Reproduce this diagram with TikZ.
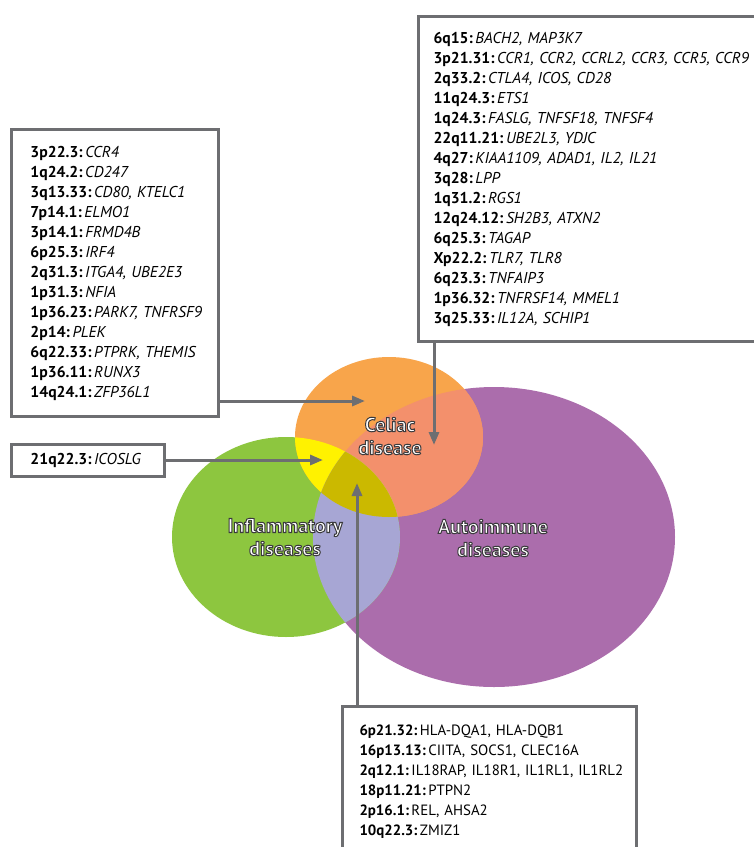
\documentclass[tikz,border=0pt]{standalone}
\usepackage{fontspec}
\setmainfont{PT Sans}
\usetikzlibrary{arrows.meta}
\definecolor{celiac}{HTML}{F8A54B}
\definecolor{inflam}{HTML}{8DC63F}
\definecolor{autoim}{HTML}{AB6DAC}
\definecolor{celauto}{HTML}{F3906C}
\definecolor{celinfl}{HTML}{FFF200}
\definecolor{inflauto}{HTML}{A7A6D4}
\definecolor{allthree}{HTML}{CBB900}
\definecolor{linegray}{HTML}{6D6E71}
\tikzset{
  genebox/.style={draw=linegray, line width=3pt, fill=white, anchor=north west,
    align=left, inner ysep=0pt, font=\fontsize{15.7}{20}\selectfont},
  conn/.style={draw=linegray, line width=3pt, -{Triangle[length=13pt,width=10pt]}},
  setlabel/.style={font=\bfseries\fontsize{20}{23}\selectfont, text=white, align=center}
}
\newcommand{\gl}[2]{\mbox{\textbf{#1:}\,\textit{#2}}}
\newcommand{\gu}[2]{\mbox{\textbf{#1:}\,#2}}
% white letters with a dark rim
\newcommand{\rim}[1]{\special{pdf:literal direct 0.23 0.23 0.24 RG 1 w 2 Tr}#1\special{pdf:literal direct 0 Tr}}
\def\celiacpath{(389,437) ellipse [x radius=94pt, y radius=80pt]}
\def\inflampath{(286,537) ellipse [x radius=114pt, y radius=100pt]}
\def\autopath{(494,537) ellipse [x radius=181pt, y radius=150pt]}
\begin{document}
\begin{tikzpicture}[x=1pt, y=-1pt]
	\useasboundingbox (0,0) rectangle (754,847);
	\fill[white] (0,0) rectangle (754,847);
	\clip (0,0) rectangle (754,847);

	% the three sets
	\fill[autoim] \autopath;
	\fill[inflam] \inflampath;
	\fill[celiac] \celiacpath;

	% overlaps
	\begin{scope}
		\clip \celiacpath;
		\fill[celauto] \autopath;
		\fill[celinfl] \inflampath;
	\end{scope}
	\begin{scope}
		\clip \inflampath;
		\fill[inflauto] \autopath;
		\clip \celiacpath;
		\fill[allthree] \autopath;
	\end{scope}

	% set names
	\node[setlabel] (celiaclbl) at (390,436) {\rim{Celiac}\\\rim{disease}};
	\node[setlabel] (inflamlbl) at (285,537) {\rim{Inflammatory}\\\rim{diseases}};
	\node[setlabel] (autolbl) at (493,538) {\rim{Autoimmune}\\\rim{diseases}};

	% gene boxes
	\node[genebox, inner xsep=15pt, minimum width=360pt, text width=330pt, minimum height=325pt] (autobox) at (417,15) {%
		\gl{6q15}{BACH2, MAP3K7}\\
		\gl{3p21.31}{CCR1, CCR2, CCRL2, CCR3, CCR5, CCR9}\\
		\gl{2q33.2}{CTLA4, ICOS, CD28}\\
		\gl{11q24.3}{ETS1}\\
		\gl{1q24.3}{FASLG, TNFSF18, TNFSF4}\\
		\gl{22q11.21}{UBE2L3, YDJC}\\
		\gl{4q27}{KIAA1109, ADAD1, IL2, IL21}\\
		\gl{3q28}{LPP}\\
		\gl{1q31.2}{RGS1}\\
		\gl{12q24.12}{SH2B3, ATXN2}\\
		\gl{6q25.3}{TAGAP}\\
		\gl{Xp22.2}{TLR7, TLR8}\\
		\gl{6q23.3}{TNFAIP3}\\
		\gl{1p36.32}{TNFRSF14, MMEL1}\\
		\gl{3q25.33}{IL12A, SCHIP1}};
	\node[genebox, inner xsep=19pt, minimum width=207pt, text width=169pt, minimum height=287pt] (celiacbox) at (10,128) {%
		\gl{3p22.3}{CCR4}\\
		\gl{1q24.2}{CD247}\\
		\gl{3q13.33}{CD80, KTELC1}\\
		\gl{7p14.1}{ELMO1}\\
		\gl{3p14.1}{FRMD4B}\\
		\gl{6p25.3}{IRF4}\\
		\gl{2q31.3}{ITGA4, UBE2E3}\\
		\gl{1p31.3}{NFIA}\\
		\gl{1p36.23}{PARK7, TNFRSF9}\\
		\gl{2p14}{PLEK}\\
		\gl{6q22.33}{PTPRK, THEMIS}\\
		\gl{1p36.11}{RUNX3}\\
		\gl{14q24.1}{ZFP36L1}};
	\node[genebox, inner xsep=19pt, minimum width=153pt, text width=115pt, minimum height=32pt] (icosbox) at (10,443) {\gl{21q22.3}{ICOSLG}};
	\node[genebox, inner xsep=17pt, minimum width=294pt, text width=260pt, minimum height=150pt,
		font=\fontsize{14.9}{20}\selectfont] (sharedbox) at (341,705) {%
		\gu{6p21.32}{HLA-DQA1, HLA-DQB1}\\
		\gu{16p13.13}{CIITA, SOCS1, CLEC16A}\\
		\gu{2q12.1}{IL18RAP, IL18R1, IL1RL1, IL1RL2}\\
		\gu{18p11.21}{PTPN2}\\
		\gu{2p16.1}{REL, AHSA2}\\
		\gu{10q22.3}{ZMIZ1}};

	% arrows
	\coordinate (celiactip) at (365,401);
	\coordinate (icostip) at (323,460);
	\coordinate (autotip) at (434,445);
	\coordinate (sharedtip) at (357,483);
	\draw[conn] (celiacbox.east |- celiactip) -- (celiactip);
	\draw[conn] (icosbox.east |- icostip) -- (icostip);
	\draw[conn] (autobox.south -| autotip) -- (autotip);
	\draw[conn] (sharedbox.north -| sharedtip) -- (sharedtip);
\end{tikzpicture}
\end{document}
